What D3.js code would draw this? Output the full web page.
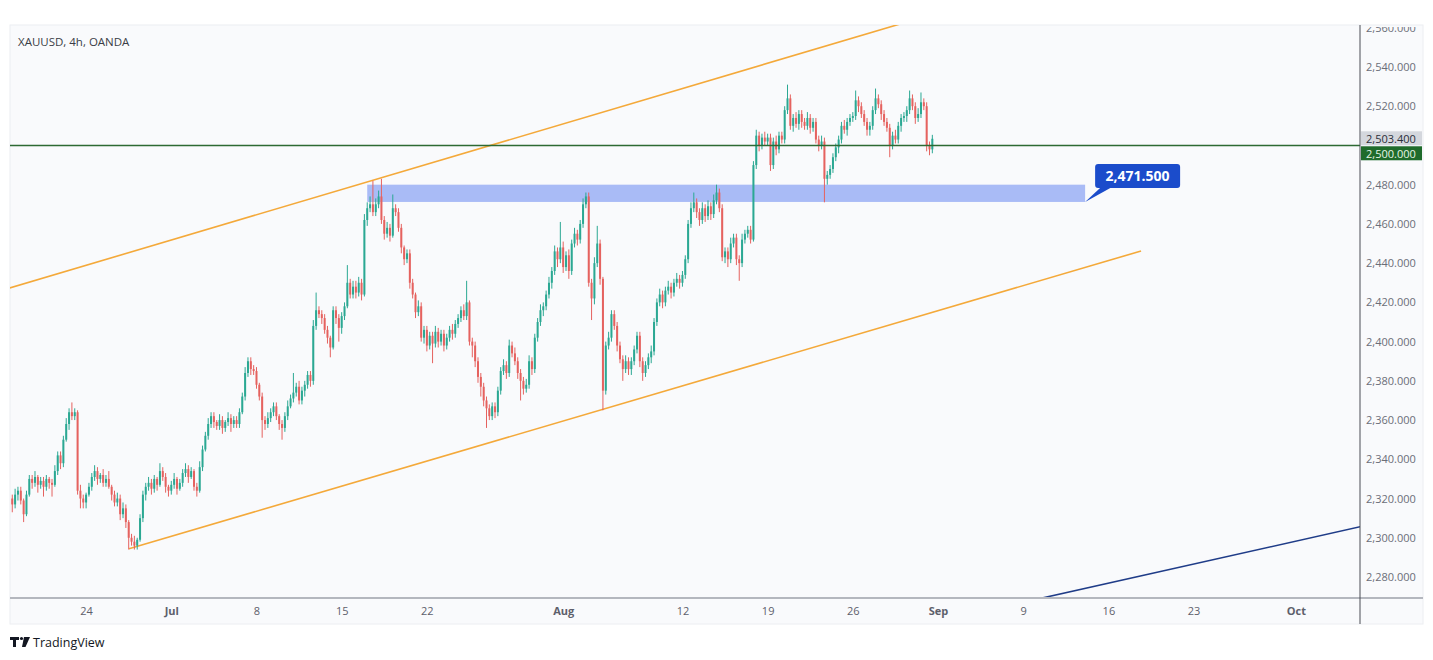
<!DOCTYPE html>
<html>
<head>
<meta charset="utf-8">
<script src="https://cdn.jsdelivr.net/npm/d3@7/dist/d3.min.js"></script>
<style>
  body { margin: 0; background: #ffffff; }
  text { font-family: "Open Sans", "DejaVu Sans", sans-serif; }
</style>
</head>
<body>
<svg id="chart" width="1433" height="660"></svg>
<script>
// 4h XAUUSD candles; bar 0 = first bar of Mon Jun 24, 30 bars per trading week
var startBar = -26;
var firstOpen = 2320;
var closes = [
  2317, 2322, 2324, 2319, 2312, 2322,
  2330, 2328, 2331, 2327, 2329, 2326,
  2330, 2328, 2327, 2334, 2342, 2338,
  2350, 2358, 2364, 2362, 2364, 2324,
  2320, 2318,
  2322, 2326, 2331, 2334, 2330, 2332,
  2328, 2330, 2326, 2322, 2318, 2320,
  2312, 2315, 2308, 2300, 2298, 2296,
  2299, 2310, 2322, 2326, 2328, 2325,
  2330, 2327, 2334, 2331, 2326, 2324,
  2327, 2330, 2325, 2328, 2333, 2335,
  2331, 2334, 2326, 2324, 2336, 2345,
  2352, 2358, 2362, 2359, 2357, 2360,
  2356, 2359, 2361, 2358, 2360, 2358,
  2364, 2372, 2384, 2390, 2386, 2385,
  2378, 2372, 2360, 2358, 2361, 2364,
  2367, 2362, 2358, 2356, 2362, 2367,
  2371, 2374, 2377, 2370, 2375, 2378,
  2383, 2380, 2408, 2416, 2414, 2412,
  2406, 2402, 2397, 2416, 2412, 2407,
  2413, 2418, 2430, 2424, 2428, 2425,
  2430, 2424, 2462, 2468, 2470, 2466,
  2470, 2474, 2462, 2455, 2458, 2454,
  2468, 2466, 2458, 2448, 2442, 2445,
  2430, 2424, 2415, 2418, 2402, 2406,
  2398, 2403, 2399, 2405, 2400, 2404,
  2398, 2402, 2406, 2404, 2409, 2412,
  2416, 2413, 2420, 2400, 2398, 2390,
  2382, 2377, 2370, 2366, 2362, 2367,
  2364, 2375, 2385, 2388, 2384, 2398,
  2394, 2390, 2384, 2380, 2376, 2378,
  2390, 2386, 2402, 2410, 2416, 2418,
  2424, 2430, 2436, 2446, 2442, 2448,
  2438, 2444, 2436, 2450, 2455, 2452,
  2460, 2470, 2474, 2430, 2422, 2440,
  2450, 2432, 2375, 2398, 2402, 2414,
  2408, 2398, 2391, 2386, 2390, 2386,
  2390, 2396, 2403, 2390, 2384, 2388,
  2392, 2395, 2410, 2420, 2424, 2420,
  2426, 2428, 2425, 2430, 2432, 2430,
  2434, 2442, 2460, 2468, 2471, 2466,
  2462, 2468, 2464, 2469, 2465, 2472,
  2476, 2468, 2443, 2446, 2442, 2450,
  2453, 2442, 2440, 2452, 2455, 2457,
  2452, 2490, 2505, 2500, 2504, 2502,
  2504, 2490, 2502, 2498, 2505, 2503,
  2518, 2524, 2510, 2514, 2511, 2516,
  2512, 2510, 2514, 2509, 2512, 2503,
  2500, 2502, 2483, 2485, 2488, 2494,
  2499, 2503, 2510, 2508, 2512, 2514,
  2515, 2523, 2520, 2516, 2512, 2508,
  2510, 2518, 2524, 2521, 2516, 2512,
  2509, 2500, 2505, 2503, 2510, 2514,
  2515, 2518, 2524, 2520, 2514, 2516,
  2522, 2520, 2500, 2498, 2503.4
];
// wick length above the body / below the body, in dollars
var wickUp = [
  2,3,2,2,1,2, 2,2,3,1,2,2, 2,1,2,3,2,2, 2,3,2,5,2,1, 3,2,
  1,2,2,3,2,1, 3,2,4,1,2,3, 2,3,2,1,2,3, 1,2,2,2,3,2, 2,1,4,2,2,1,
  2,3,1,2,2,3, 2,2,1,2,3,2, 2,3,2,2,1,3, 2,1,3,2,2,2, 2,2,3,2,2,2,
  2,1,2,2,3,2, 2,2,1,2,2,3, 2,10,2,3,2,2, 2,2,3,9,2,2, 2,2,1,2,2,2,
  2,2,9,2,3,3, 3,2,3,3,4,12, 3,3,9,2,3,2, 7,2,2,2,1,2, 2,2,1,3,2,2,
  2,2,2,3,2,2, 2,2,2,3,2,2, 2,3,11,1,2,2, 2,2,2,2,2,2, 2,2,2,3,2,3,
  2,3,2,2,2,3, 3,2,2,2,3,2, 2,3,2,3,2,13, 3,2,3,2,3,2, 2,3,2,2,2,3,
  9,2,1,2,3,2, 2,2,2,2,3,2, 2,2,2,2,2,2, 2,3,2,2,3,2, 2,3,2,2,3,2,
  2,2,2,3,5,2, 2,3,2,3,2,3, 4,2,2,2,2,3, 2,2,2,3,2,2, 2,2,3,2,2,3,
  2,2,2,3,2,2, 2,7,2,2,3,2, 2,2,3,2,2,2, 2,3,2,2,2,2, 2,2,2,3,2,2,
  2,5,2,2,2,2, 2,2,5,2,2,2, 2,2,2,3,2,2, 2,2,4,2,2,3, 5,2,2,2,2
];
var wickDown = [
  4,2,3,2,4,1, 1,3,2,4,2,5, 2,3,6,1,2,3, 2,1,3,2,2,2, 5,3,
  3,1,2,2,3,2, 2,2,1,3,2,2, 3,2,3,6,2,2, 2,1,2,3,2,3, 2,3,1,2,3,3,
  2,2,3,1,2,2, 3,1,2,3,1,2, 1,2,2,3,2,2, 3,2,2,4,2,2, 2,1,2,2,3,2,
  2,2,9,3,2,2, 2,2,3,6,2,2, 1,2,2,2,2,3, 2,3,2,2,2,3, 2,3,5,1,3,7,
  3,2,1,2,2,3, 2,3,1,3,2,2, 2,2,2,3,2,3, 1,2,2,3,3,2, 3,2,3,2,2,3,
  3,2,10,2,3,2, 3,2,2,3,2,2, 2,2,2,2,6,3, 3,5,3,10,2,2, 3,2,2,2,3,2,
  2,2,3,10,3,2, 2,3,2,2,2,3, 2,2,3,2,4,2, 3,2,4,2,2,3, 2,2,2,2,11,3,
  2,3,10,2,2,2, 2,3,2,6,2,3, 3,2,2,3,4,2, 2,3,2,2,2,3, 2,2,3,2,2,3,
  2,2,2,2,2,3, 3,2,3,2,3,2, 2,2,2,3,4,2, 2,3,9,2,2,2, 2,1,2,3,2,2,
  2,3,2,3,2,2, 2,2,2,3,2,3, 3,2,2,3,2,2, 3,2,12,3,2,2, 2,3,2,2,3,2,
  2,2,3,2,2,3, 3,2,2,2,3,2, 2,6,2,2,2,3, 2,3,2,2,3,2, 2,2,3,3,2
];

var priceTicks = [2280, 2300, 2320, 2340, 2360, 2380, 2400, 2420, 2440, 2460, 2480, 2500, 2520, 2540, 2560];
var timeTicks = [0, 30, 60, 90, 120, 168, 210, 240, 270, 300, 330, 360, 390, 426];
var timeLabels = ["24", "Jul", "8", "15", "22", "Aug", "12", "19", "26", "Sep", "9", "16", "23", "Oct"];
var monthLabels = ["Jul", "Aug", "Sep", "Oct"];

// drawings: [bar, price] anchors
var upperChannel = [[-26.8, 2427.4], [283.1, 2560.4]];
var lowerChannel = [[15.1, 2294.4], [371.5, 2446.2]];
var navyLine = [[337, 2269.4], [448.6, 2305.6]];
var supportLevel = 2500;
var zone = { from: 99, to: 351.8, top: 2480, bottom: 2471.2 };
var zoneLabel = "2,471.500";
var lastPrice = 2503.4;

var svg = d3.select("#chart");
var plotL = 10, plotR = 1360, plotT = 25, plotB = 598, boxR = 1423, boxB = 624;

var x = d3.scaleLinear().domain([-26.8, 448.6]).range([plotL, plotR]);
var y = d3.scaleLinear().domain([2269.3, 2561.4]).range([plotB, plotT]);

// frame
svg.append("rect").attr("x", plotL).attr("y", plotT).attr("width", boxR - plotL).attr("height", boxB - plotT)
  .attr("fill", "#f9fafc").attr("stroke", "#eceef2");

svg.append("clipPath").attr("id", "plot").append("rect")
  .attr("x", plotL).attr("y", plotT).attr("width", plotR - plotL).attr("height", plotB - plotT);
svg.append("clipPath").attr("id", "scale").append("rect")
  .attr("x", plotR).attr("y", plotT + 2).attr("width", boxR - plotR).attr("height", plotB - plotT - 2);

var plot = svg.append("g").attr("clip-path", "url(#plot)");

var line = d3.line().x(function(d) { return x(d[0]); }).y(function(d) { return y(d[1]); });

// extend a two-point trend line across the view
function extend(p, a, b) {
  var k = (p[1][1] - p[0][1]) / (p[1][0] - p[0][0]);
  return [[a, p[0][1] + k * (a - p[0][0])], [b, p[0][1] + k * (b - p[0][0])]];
}

plot.append("path").datum(extend(upperChannel, -30, 300))
  .attr("d", line).attr("fill", "none").attr("stroke", "#f4a93a").attr("stroke-width", 1.6);
plot.append("path").datum(lowerChannel)
  .attr("d", line).attr("fill", "none").attr("stroke", "#f4a93a").attr("stroke-width", 1.6);
plot.append("path").datum(extend(navyLine, 330, 460))
  .attr("d", line).attr("fill", "none").attr("stroke", "#1f3c88").attr("stroke-width", 1.6);

// zone
plot.append("rect")
  .attr("x", x(zone.from)).attr("y", y(zone.top))
  .attr("width", x(zone.to) - x(zone.from)).attr("height", y(zone.bottom) - y(zone.top))
  .attr("fill", "#a9bbf6");

// candles
var candles = closes.map(function(c, i) {
  var o = i === 0 ? firstOpen : closes[i - 1];
  return { bar: startBar + i, o: o, c: c,
           h: Math.max(o, c) + wickUp[i], l: Math.min(o, c) - wickDown[i] };
});
var upColor = "#2ba893", downColor = "#e5625f";

var cg = plot.selectAll("g.candle").data(candles).enter().append("g").attr("class", "candle");
cg.append("line")
  .attr("x1", function(d) { return x(d.bar); }).attr("x2", function(d) { return x(d.bar); })
  .attr("y1", function(d) { return y(d.h); }).attr("y2", function(d) { return y(d.l); })
  .attr("stroke", function(d) { return d.c >= d.o ? upColor : downColor; }).attr("stroke-width", 1);
cg.append("rect")
  .attr("x", function(d) { return x(d.bar) - 1; })
  .attr("width", 2)
  .attr("y", function(d) { return y(Math.max(d.o, d.c)); })
  .attr("height", function(d) { return Math.max(1, Math.abs(y(d.o) - y(d.c))); })
  .attr("fill", function(d) { return d.c >= d.o ? upColor : downColor; });

// horizontal level
plot.append("line").attr("x1", plotL).attr("x2", plotR)
  .attr("y1", y(supportLevel)).attr("y2", y(supportLevel))
  .attr("stroke", "#2d6a33").attr("stroke-width", 1.5);

// zone callout
var ax = x(zone.to), ay = y(zone.bottom);
svg.append("path")
  .attr("d", "M" + ax + "," + ay + "L" + (ax + 16) + "," + (ay - 15) + "L" + (ax + 27) + "," + (ay - 15) + "Z")
  .attr("fill", "#1b4ccb");
svg.append("rect").attr("x", ax + 10).attr("y", ay - 38).attr("width", 85).attr("height", 24).attr("rx", 3)
  .attr("fill", "#1b4ccb");
svg.append("text").attr("x", ax + 52.5).attr("y", ay - 20.5).attr("text-anchor", "middle")
  .attr("font-size", 14).attr("font-weight", 700).attr("fill", "#ffffff").text(zoneLabel);

// price axis
var fmt = d3.format(",.3f");
var yAxis = svg.append("g").attr("clip-path", "url(#scale)").append("g")
  .attr("transform", "translate(" + plotR + ",0)")
  .call(d3.axisRight(y).tickValues(priceTicks).tickSize(0).tickPadding(6).tickFormat(fmt));
yAxis.select(".domain").remove();
yAxis.selectAll("text").attr("font-size", 11).attr("fill", "#6b6e78")
  .attr("font-family", "'Open Sans', sans-serif");
yAxis.selectAll(".tick").filter(function(d) { return d === 2500; }).remove();

// last price and level labels
svg.append("rect").attr("x", plotR + 1).attr("y", y(lastPrice) - 7.5).attr("width", 61).attr("height", 14)
  .attr("fill", "#d4d7dd");
svg.append("text").attr("x", plotR + 6).attr("y", y(lastPrice) + 4).attr("font-size", 11).attr("fill", "#2a2e39")
  .text(fmt(lastPrice));
svg.append("rect").attr("x", plotR + 1).attr("y", y(lastPrice) + 7.5).attr("width", 61).attr("height", 14)
  .attr("fill", "#1f6b2b");
svg.append("text").attr("x", plotR + 6).attr("y", y(lastPrice) + 19).attr("font-size", 11).attr("fill", "#e6f4e6")
  .text(fmt(supportLevel));

// time axis
var xAxis = svg.append("g").attr("transform", "translate(0," + plotB + ")")
  .call(d3.axisBottom(x).tickValues(timeTicks).tickSize(0).tickPadding(9)
    .tickFormat(function(d, i) { return timeLabels[i]; }));
xAxis.select(".domain").remove();
xAxis.selectAll("text").attr("font-size", 11).attr("fill", "#5d606b")
  .attr("font-family", "'Open Sans', sans-serif")
  .attr("font-weight", function(d, i) { return monthLabels.indexOf(timeLabels[i]) >= 0 ? 700 : 400; });

// axis borders
svg.append("line").attr("x1", plotL).attr("x2", boxR).attr("y1", plotB).attr("y2", plotB)
  .attr("stroke", "#b4b7be").attr("stroke-width", 2);
svg.append("line").attr("x1", plotR).attr("x2", plotR).attr("y1", plotT).attr("y2", boxB)
  .attr("stroke", "#4a4d55").attr("stroke-width", 1);

// legend
svg.append("text").attr("x", 18).attr("y", 46).attr("font-size", 11.5).attr("fill", "#3a3d46")
  .text("XAUUSD, 4h, OANDA");

// TradingView mark
var logo = svg.append("g").attr("transform", "translate(10,637)").attr("fill", "#131722");
logo.append("path").attr("d", "M0,0H9V3H6V10H3V3H0Z");
logo.append("circle").attr("cx", 11.5).attr("cy", 1.5).attr("r", 1.6);
logo.append("path").attr("d", "M14,0H20L15.5,10H12Z");
svg.append("text").attr("x", 33).attr("y", 647).attr("font-size", 12.5).attr("fill", "#131722")
  .text("TradingView");
</script>
</body>
</html>
